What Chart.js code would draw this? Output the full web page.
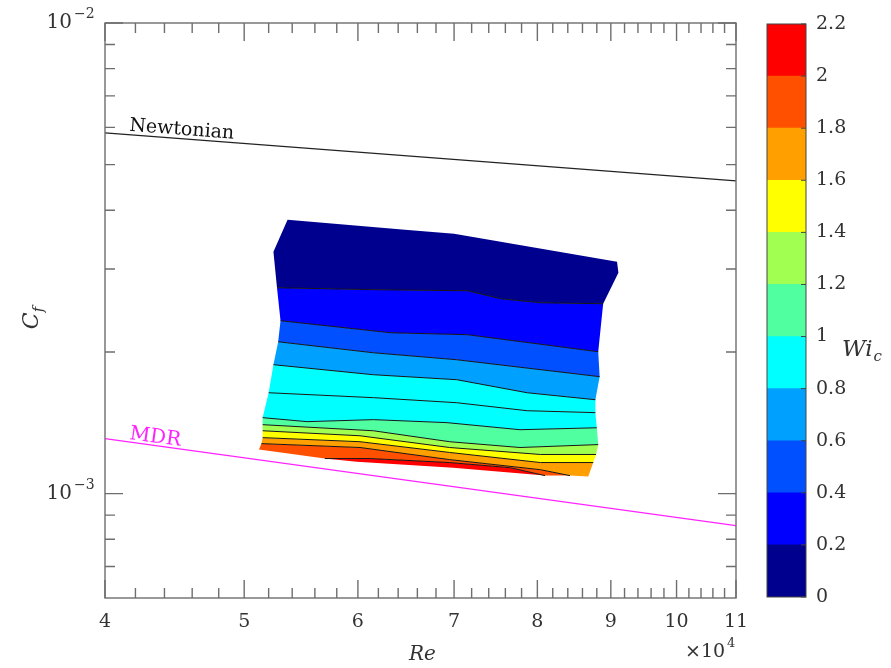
<!DOCTYPE html>
<html>
<head>
<meta charset="utf-8">
<script src="https://cdn.jsdelivr.net/npm/chart.js@4.4.1/dist/chart.umd.min.js"></script>
<style>
  html, body { margin: 0; padding: 0; background: #fff; }
  #wrap { position: relative; width: 891px; height: 668px; }
  #main { position: absolute; left: 0; top: 0; }
  #bar { position: absolute; left: 740px; top: 0; }
</style>
</head>
<body>
<div id="wrap">
  <canvas id="main" width="891" height="668"></canvas>
  <canvas id="bar" width="151" height="668"></canvas>
</div>
<script>
// axis ticks
const xMajorTicks = [40000, 50000, 60000, 70000, 80000, 90000, 100000, 110000];
const xTickLabels = ['4', '5', '6', '7', '8', '9', '10', '11'];
const yMajorTicks = [1e-3, 1e-2];
const yTickBase = ['10', '10'];
const yTickExp = ['\u22123', '\u22122'];
const yMinorTicks = [7e-4, 8e-4, 9e-4, 2e-3, 3e-3, 4e-3, 5e-3, 6e-3, 7e-3, 8e-3, 9e-3];

// reference lines
const newtonRe = [40000, 110000];
const newtonCf = [5.84e-3, 4.62e-3];
const mdrRe = [40000, 110000];
const mdrCf = [1.309e-3, 0.855e-3];

// colour bar
const cbarLevels = [0, 0.2, 0.4, 0.6, 0.8, 1.0, 1.2, 1.4, 1.6, 1.8, 2.0, 2.2];
const cbarLabels = ['0', '0.2', '0.4', '0.6', '0.8', '1', '1.2', '1.4', '1.6', '1.8', '2', '2.2'];
const cbarColors = ['#00008f', '#0000ff', '#0050ff', '#00a0ff', '#00ffff', '#50ffa0',
                    '#a0ff50', '#ffff00', '#ffa000', '#ff5000', '#ff0000'];

// contour lines of Wi_c, each from left edge to right edge of the data region
const contourLevels = [0.2, 0.4, 0.6, 0.8, 0.9, 1.0, 1.2, 1.4, 1.6, 1.8, 2.0];
const contourRe = [
  [52700, 61500, 71500, 75400, 80400, 88900],
  [53000, 63200, 71500, 88200],
  [52800, 61500, 70300, 88400],
  [52400, 61500, 70300, 78700, 87800],
  [52000, 61500, 70300, 78700, 87800],
  [51500, 55300, 61500, 69200, 77800, 88000],
  [51500, 61500, 69500, 77800, 88200],
  [51500, 60200, 69500, 80400, 87900],
  [51500, 60200, 69500, 80400, 87500],
  [51400, 60200, 69500, 80400, 84300],
  [56900, 61200, 69500, 76600, 81000]
];
const contourCf = [
  [2.738e-3, 2.712e-3, 2.698e-3, 2.595e-3, 2.544e-3, 2.532e-3],
  [2.330e-3, 2.197e-3, 2.176e-3, 2.002e-3],
  [2.102e-3, 1.992e-3, 1.925e-3, 1.772e-3],
  [1.879e-3, 1.789e-3, 1.746e-3, 1.638e-3, 1.583e-3],
  [1.638e-3, 1.599e-3, 1.560e-3, 1.500e-3, 1.486e-3],
  [1.450e-3, 1.422e-3, 1.436e-3, 1.415e-3, 1.367e-3, 1.380e-3],
  [1.401e-3, 1.360e-3, 1.289e-3, 1.253e-3, 1.271e-3],
  [1.360e-3, 1.327e-3, 1.253e-3, 1.211e-3, 1.211e-3],
  [1.315e-3, 1.289e-3, 1.223e-3, 1.164e-3, 1.164e-3],
  [1.277e-3, 1.253e-3, 1.181e-3, 1.124e-3, 1.092e-3],
  [1.187e-3, 1.187e-3, 1.164e-3, 1.135e-3, 1.092e-3]
];
// outer edges of the data region
const edgeTopRe = [52400, 53600, 64700, 70000, 90900, 91100];
const edgeTopCf = [3.264e-3, 3.817e-3, 3.635e-3, 3.565e-3, 3.108e-3, 2.945e-3];
const edgeBottomRe = [51200, 56900, 59900, 69900, 81000, 86800];
const edgeBottomCf = [1.241e-3, 1.187e-3, 1.169e-3, 1.135e-3, 1.092e-3, 1.087e-3];

const SERIF = '"DejaVu Serif", "Liberation Serif", serif';

function pts(re, cf) {
  return re.map((r, i) => ({ x: r, y: cf[i] }));
}

function colorFor(level) {
  return cbarColors[Math.floor(level / 0.2 + 1e-6)];
}

// build the filled bands between neighbouring lines
const edgeTop = pts(edgeTopRe, edgeTopCf);
const edgeBottom = pts(edgeBottomRe, edgeBottomCf);
const contours = contourLevels.map((lv, i) => pts(contourRe[i], contourCf[i]));
const rev = a => a.slice().reverse();
const last = a => a[a.length - 1];

const bands = [];
const upperLines = [edgeTop].concat(contours.slice(0, 9));
const upperLevels = [0].concat(contourLevels.slice(0, 9));
for (let i = 0; i < upperLines.length - 1; i++) {
  bands.push({ level: upperLevels[i], poly: upperLines[i].concat(rev(upperLines[i + 1])) });
}
const c16 = contours[8], c18 = contours[9], c20 = contours[10];
// 1.6 - 1.8: lower side runs along 1.8 and then the bottom edge
bands.push({ level: 1.6, poly: c16.concat(rev(c18.concat(edgeBottom.filter(p => p.x > last(c18).x)))) });
// 1.8 - 2.0: lower side is the bottom edge with the 2.0 island
const lower18 = edgeBottom.filter(p => p.x < c20[0].x)
  .concat(c20)
  .concat(edgeBottom.filter(p => p.x > last(c20).x && p.x < last(c18).x));
bands.push({ level: 1.8, poly: c18.concat(rev(lower18)) });
// 2.0 - 2.2
bands.push({ level: 2.0, poly: c20.concat(rev(edgeBottom.filter(p => p.x >= c20[0].x && p.x <= last(c20).x))) });

const datasets = [];
bands.forEach(b => {
  datasets.push({
    data: b.poly, showLine: true, fill: 'shape', tension: 0,
    backgroundColor: colorFor(b.level), borderColor: 'rgba(0,0,0,0)', borderWidth: 0,
    pointRadius: 0, order: 3
  });
});
contours.forEach(c => {
  datasets.push({
    data: c, showLine: true, fill: false, tension: 0,
    borderColor: '#151515', borderWidth: 1, pointRadius: 0, order: 2
  });
});
datasets.push({
  data: pts(newtonRe, newtonCf), showLine: true, fill: false,
  borderColor: '#222', borderWidth: 1.2, pointRadius: 0, order: 1
});
datasets.push({
  data: pts(mdrRe, mdrCf), showLine: true, fill: false,
  borderColor: '#ff22ff', borderWidth: 1.2, pointRadius: 0, order: 1
});

function drawSup(ctx, base, sup, x, y, baseSize, supSize, align) {
  ctx.font = baseSize + 'px ' + SERIF;
  const wb = ctx.measureText(base).width;
  ctx.font = supSize + 'px ' + SERIF;
  const ws = ctx.measureText(sup).width;
  let left = x;
  if (align === 'right') left = x - wb;
  ctx.textAlign = 'left';
  ctx.textBaseline = 'middle';
  ctx.font = baseSize + 'px ' + SERIF;
  ctx.fillText(base, left, y);
  ctx.font = supSize + 'px ' + SERIF;
  ctx.fillText(sup, left + wb + 2, y - baseSize * 0.42);
  return wb + ws;
}

// box, inward ticks and all axis text
const axesPlugin = {
  id: 'axesBox',
  afterDraw(chart) {
    const { ctx, chartArea: a, scales: { x, y } } = chart;
    ctx.save();
    ctx.strokeStyle = '#6e6e6e';
    ctx.lineWidth = 1.4;
    ctx.strokeRect(a.left, a.top, a.right - a.left, a.bottom - a.top);

    ctx.beginPath();
    for (let k = 40; k <= 110; k += 2) {
      const px = x.getPixelForValue(k * 1000);
      const len = k % 10 === 0 ? 18 : 10;
      ctx.moveTo(px, a.bottom); ctx.lineTo(px, a.bottom - len);
      ctx.moveTo(px, a.top); ctx.lineTo(px, a.top + len);
    }
    yMinorTicks.concat(yMajorTicks).forEach(v => {
      const py = y.getPixelForValue(v);
      const len = yMajorTicks.includes(v) ? 18 : 10;
      ctx.moveTo(a.left, py); ctx.lineTo(a.left + len, py);
      ctx.moveTo(a.right, py); ctx.lineTo(a.right - len, py);
    });
    ctx.stroke();

    ctx.fillStyle = '#333';
    ctx.font = '19px ' + SERIF;
    ctx.textAlign = 'center';
    ctx.textBaseline = 'middle';
    xMajorTicks.forEach((v, i) => {
      ctx.fillText(xTickLabels[i], x.getPixelForValue(v), a.bottom + 24);
    });
    yMajorTicks.forEach((v, i) => {
      drawSup(ctx, yTickBase[i], yTickExp[i], 72, y.getPixelForValue(v), 20, 14, 'right');
    });
    // x10^4 multiplier
    drawSup(ctx, '\u00d710', '4', 685, a.bottom + 54, 19, 13, 'left');

    // axis titles
    ctx.font = 'italic 20px ' + SERIF;
    ctx.textAlign = 'center';
    ctx.fillText('Re', (a.left + a.right) / 2 + 2, a.bottom + 57);

    ctx.save();
    ctx.translate(32, 318);
    ctx.rotate(-Math.PI / 2);
    ctx.font = 'italic 22px ' + SERIF;
    const wC = ctx.measureText('C').width;
    ctx.font = 'italic 15px ' + SERIF;
    const wf = ctx.measureText('f').width;
    ctx.textAlign = 'left';
    ctx.font = 'italic 22px ' + SERIF;
    ctx.fillText('C', -(wC + wf) / 2, 0);
    ctx.font = 'italic 15px ' + SERIF;
    ctx.fillText('f', -(wC + wf) / 2 + wC, 7);
    ctx.restore();

    // line labels, tilted along their lines
    const lineLabel = (re, cf, text, color, size, lift) => {
      const x0 = x.getPixelForValue(re[0]), y0 = y.getPixelForValue(cf[0]);
      const x1 = x.getPixelForValue(re[1]), y1 = y.getPixelForValue(cf[1]);
      const ang = Math.atan2(y1 - y0, x1 - x0);
      const tx = 129;
      const ty = y0 + (y1 - y0) * (tx - x0) / (x1 - x0) - lift;
      ctx.save();
      ctx.translate(tx, ty);
      ctx.rotate(ang);
      ctx.font = size + 'px ' + SERIF;
      ctx.fillStyle = color;
      ctx.textAlign = 'left';
      ctx.textBaseline = 'alphabetic';
      ctx.fillText(text, 0, 0);
      ctx.restore();
    };
    lineLabel(newtonRe, newtonCf, 'Newtonian', '#111', 19, 4);
    lineLabel(mdrRe, mdrCf, 'MDR', '#ff22ff', 20, 3);
    ctx.restore();
  }
};

new Chart(document.getElementById('main'), {
  type: 'scatter',
  data: { datasets: datasets },
  options: {
    responsive: false,
    animation: false,
    layout: { padding: { left: 105, top: 23, right: 155, bottom: 70 } },
    plugins: { legend: { display: false }, tooltip: { enabled: false } },
    scales: {
      x: { type: 'logarithmic', min: 40000, max: 110000, display: false },
      y: { type: 'logarithmic', min: 6e-4, max: 1e-2, display: false }
    }
  },
  plugins: [axesPlugin]
});

// colour bar
const cbarPlugin = {
  id: 'cbarText',
  afterDraw(chart) {
    const { ctx, chartArea: a, scales: { y } } = chart;
    ctx.save();
    ctx.strokeStyle = '#444';
    ctx.lineWidth = 1;
    ctx.strokeRect(a.left, a.top, a.right - a.left, a.bottom - a.top);
    ctx.beginPath();
    cbarLevels.forEach(v => {
      const py = y.getPixelForValue(v);
      ctx.moveTo(a.right, py); ctx.lineTo(a.right - 5, py);
    });
    ctx.stroke();
    ctx.fillStyle = '#333';
    ctx.font = '19px ' + SERIF;
    ctx.textAlign = 'left';
    ctx.textBaseline = 'middle';
    cbarLevels.forEach((v, i) => {
      ctx.fillText(cbarLabels[i], a.right + 10, y.getPixelForValue(v));
    });
    ctx.font = 'italic 23px ' + SERIF;
    ctx.fillText('Wi', 102, 350);
    const w = ctx.measureText('Wi').width;
    ctx.font = 'italic 15px ' + SERIF;
    ctx.fillText('c', 102 + w + 1, 357);
    ctx.restore();
  }
};

new Chart(document.getElementById('bar'), {
  type: 'bar',
  data: {
    labels: ['Wi'],
    datasets: cbarColors.map((c, i) => ({
      data: [[cbarLevels[i], cbarLevels[i + 1]]],
      backgroundColor: c, borderWidth: 0, grouped: false,
      barPercentage: 1, categoryPercentage: 1
    }))
  },
  options: {
    responsive: false,
    animation: false,
    layout: { padding: { left: 27, top: 24, right: 85, bottom: 71 } },
    plugins: { legend: { display: false }, tooltip: { enabled: false } },
    scales: {
      x: { display: false },
      y: { min: 0, max: 2.2, display: false }
    }
  },
  plugins: [cbarPlugin]
});
</script>
</body>
</html>
